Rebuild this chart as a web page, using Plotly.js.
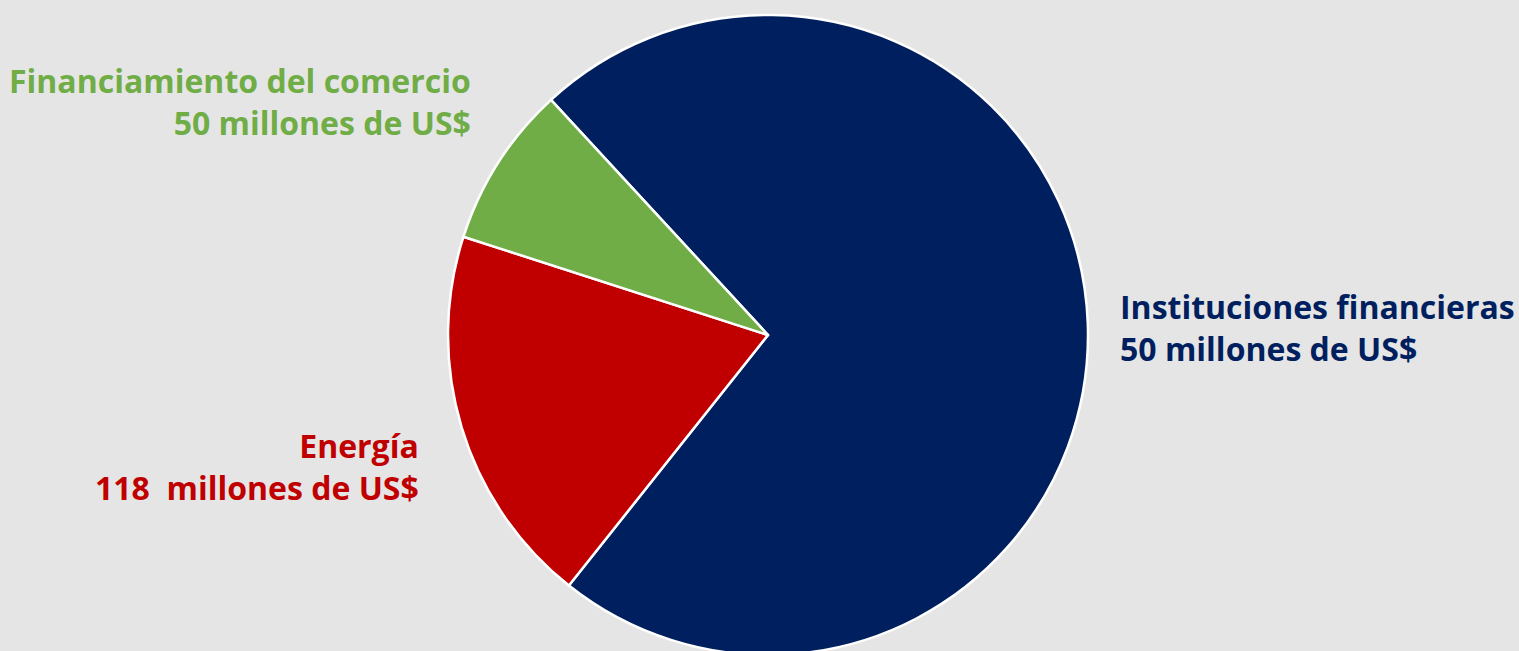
<!DOCTYPE html>
<html>
<head>
<meta charset="utf-8">
<script src="https://cdn.plot.ly/plotly-3.0.1.min.js"></script>
<style>
html,body{margin:0;padding:0;background:#E5E5E5;overflow:hidden;width:1519px;height:651px;}
#chart{width:1519px;height:670px;}
</style>
</head>
<body>
<div id="chart"></div>
<script>
// Data (slice sizes)
const categories = ["Instituciones financieras", "Energía", "Financiamiento del comercio"];
const values = [444, 118, 50];
const labelLines = [
  "50 millones de US$",
  "118\u00A0 millones de US$",
  "50 millones de US$"
];
const colors = ["#001F5E", "#C00000", "#70AD47"];

const W = 1519, H = 670;

const trace = {
  type: "pie",
  labels: categories,
  values: values,
  sort: false,
  direction: "clockwise",
  rotation: 317.3,
  textinfo: "none",
  hoverinfo: "label+value",
  marker: {colors: colors, line: {color: "#FFFFFF", width: 2.5}},
  domain: {x: [448 / W, 1088 / W], y: [(H - 655) / H, (H - 15) / H]},
  showlegend: false
};

const font = {family: "Open Sans, sans-serif", size: 32};
function ann(i, xpx, ypx, anchor) {
  return {
    text: "<b>" + categories[i] + "<br>" + labelLines[i] + "</b>",
    xref: "paper", yref: "paper",
    x: xpx / W, y: 1 - ypx / H,
    xanchor: anchor, yanchor: "middle", align: anchor,
    showarrow: false,
    font: Object.assign({}, font, {color: colors[i]})
  };
}

const layout = {
  width: W, height: H,
  margin: {l: 0, r: 0, t: 0, b: 0},
  paper_bgcolor: "#E5E5E5",
  plot_bgcolor: "#E5E5E5",
  annotations: [
    ann(0, 1118, 328, "left"),
    ann(1, 421, 466, "right"),
    ann(2, 473, 101, "right")
  ]
};

Plotly.newPlot("chart", [trace], layout, {displayModeBar: false, staticPlot: true});
</script>
</body>
</html>
